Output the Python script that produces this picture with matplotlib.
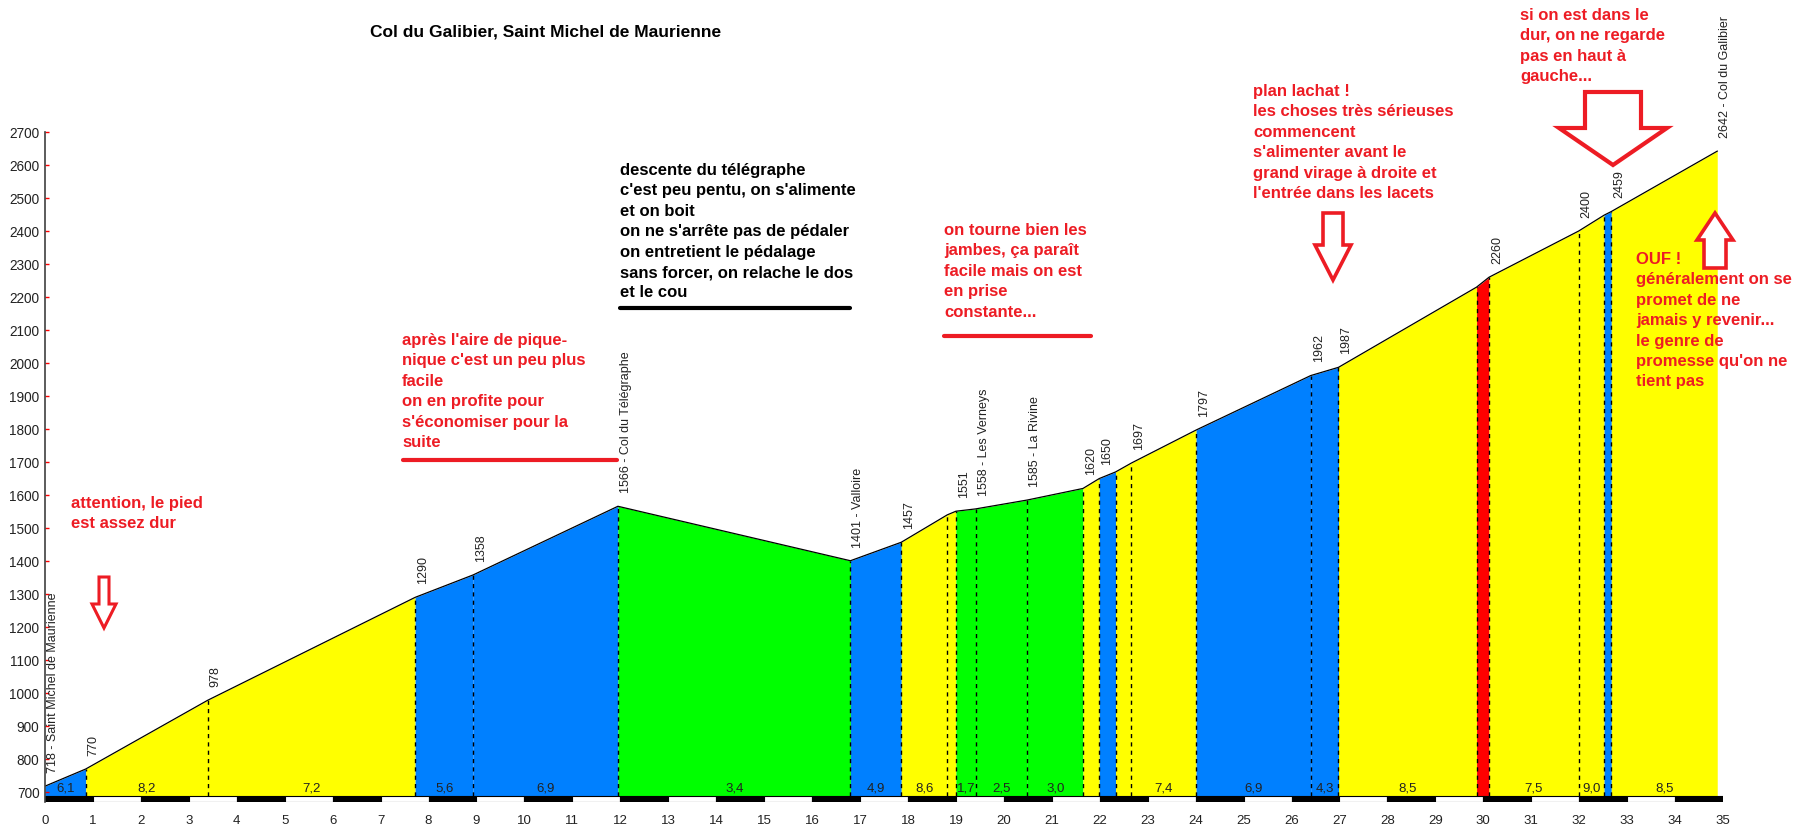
import numpy as np
import matplotlib
matplotlib.use("Agg")
import matplotlib.pyplot as plt
from matplotlib.patches import Polygon

plt.rcParams['font.family'] = ['Liberation Sans', 'DejaVu Sans']

# profil : points de passage (km, altitude)
km = [0, 0.85, 3.39, 7.72, 8.93, 11.95, 16.8, 17.86, 18.82, 19.0, 19.41, 20.49,
      21.65, 21.99, 22.33, 22.66, 24.01, 26.4, 26.98, 29.86, 30.12, 31.99,
      32.52, 32.67, 34.88]
alt = [718, 770, 978, 1290, 1358, 1566, 1401, 1457, 1540, 1551, 1558, 1585,
       1620, 1650, 1670, 1697, 1797, 1962, 1987, 2230, 2260, 2400,
       2448, 2459, 2642]
point_labels = ["718 - Saint Michel de Maurienne", "770", "978", "1290", "1358",
                "1566 - Col du Télégraphe", "1401 - Valloire", "1457", "", "1551",
                "1558 - Les Verneys", "1585 - La Rivine", "1620", "1650", "",
                "1697", "1797", "1962", "1987", "", "2260", "2400", "", "2459",
                "2642 - Col du Galibier"]

# pente de chaque segment
seg_pente = ["6,1", "8,2", "7,2", "5,6", "6,9", "3,4", "4,9", "8,6", "", "1,7",
             "2,5", "3,0", "", "", "", "7,4", "6,9", "4,3", "8,5", "", "7,5",
             "9,0", "", "8,5"]
seg_couleur = ["b", "y", "y", "b", "b", "g", "b", "y", "y", "g", "g", "g",
               "y", "b", "y", "y", "b", "b", "y", "r", "y", "y", "b", "y"]

couleurs = {"b": "#0080ff", "y": "#ffff00", "g": "#00ff00", "r": "#ff0000"}
ROUGE = "#ed1c24"
W, H = 1805, 824

fig = plt.figure(figsize=(W / 100, H / 100), dpi=100)
ax = fig.add_axes([45 / W, 22 / H, (1723 - 45) / W, (692 - 22) / H])
ax.set_xlim(0, 35)
ax.set_ylim(670, 2700)
base = 688

# remplissage des segments
for i in range(len(km) - 1):
    ax.fill_between([km[i], km[i + 1]], base, [alt[i], alt[i + 1]],
                    color=couleurs[seg_couleur[i]], lw=0)
    if seg_pente[i]:
        ax.text((km[i] + km[i + 1]) / 2, 711, seg_pente[i], ha='center',
                va='center', fontsize=9.5, color='#222222')

ax.plot(km, alt, color='black', lw=0.9)

# lignes pointillées
for k, a in zip(km[1:-1], alt[1:-1]):
    ax.plot([k, k], [base, a], color='black', lw=1, ls=(0, (3, 3)))

# étiquettes des points
for k, a, t in zip(km, alt, point_labels):
    if t:
        ax.annotate(t, (k, a), xytext=(5.8, 9.5), textcoords='offset points',
                    rotation=90, ha='center', va='bottom', fontsize=9,
                    color='#222222')

# barre km noire / blanche
for i in range(35):
    ax.bar(i, 18, bottom=670, width=1, align='edge',
           color='black' if i % 2 == 0 else 'white', edgecolor='black', lw=0.8)

ax.set_xticks(range(36))
ax.set_yticks(range(700, 2701, 100))
ax.tick_params(axis='x', length=0, pad=9, labelsize=9.5, labelcolor='#222222')
ax.tick_params(axis='y', direction='in', length=3, width=1, color='red',
               pad=4, labelsize=9.8, labelcolor='#222222')
for s in ['top', 'right', 'bottom']:
    ax.spines[s].set_visible(False)
ax.spines['left'].set_color('#404040')
ax.spines['left'].set_linewidth(1.2)


def fx(x):
    return x / W


def fy(y):
    return 1 - y / H


fig.text(fx(546), fy(32), "Col du Galibier, Saint Michel de Maurienne",
         ha='center', va='center', fontsize=12.5, fontweight='bold')

# (x, centre de la 1re ligne, couleur, texte) en pixels
notes = [
    (71, 504, ROUGE, "attention, le pied\nest assez dur"),
    (402, 341, ROUGE, "après l'aire de pique-\nnique c'est un peu plus\nfacile\n"
                      "on en profite pour\ns'économiser pour la\nsuite"),
    (620, 171, 'black', "descente du télégraphe\nc'est peu pentu, on s'alimente\n"
                        "et on boit\non ne s'arrête pas de pédaler\n"
                        "on entretient le pédalage\nsans forcer, on relache le dos\n"
                        "et le cou"),
    (944, 231, ROUGE, "on tourne bien les\njambes, ça paraît\nfacile mais on est\n"
                      "en prise\nconstante..."),
    (1253, 92, ROUGE, "plan lachat !\nles choses très sérieuses\ncommencent\n"
                      "s'alimenter avant le\ngrand virage à droite et\n"
                      "l'entrée dans les lacets"),
    (1520, 16, ROUGE, "si on est dans le\ndur, on ne regarde\npas en haut à\ngauche..."),
    (1636, 260, ROUGE, "OUF !\ngénéralement on se\npromet de ne\njamais y revenir...\n"
                       "le genre de\npromesse qu'on ne\ntient pas"),
]
for x, y, c, t in notes:
    fig.text(fx(x), fy(y - 8), t, ha='left', va='top', fontsize=12,
             fontweight='bold', color=c, linespacing=1.45)

# traits de soulignement
for x0, x1, y, c in [(403, 617, 460, ROUGE), (620, 850, 308, 'black'),
                     (944, 1091, 336, ROUGE)]:
    fig.add_artist(plt.Line2D([fx(x0), fx(x1)], [fy(y), fy(y)], color=c,
                              lw=3, solid_capstyle='round'))


def fleche(cx, y0, yh, ytip, sw, hw, lw):
    pts = [(cx - sw, y0), (cx + sw, y0), (cx + sw, yh), (cx + hw, yh),
           (cx, ytip), (cx - hw, yh), (cx - sw, yh)]
    pts = [(fx(x), fy(y)) for x, y in pts]
    fig.add_artist(Polygon(pts, closed=True, facecolor='white', edgecolor=ROUGE,
                           lw=lw, joinstyle='miter', transform=fig.transFigure))


fleche(104, 577, 604, 628, 5, 12, 2.2)
fleche(1333, 213, 245, 280, 10, 18, 2.6)
fleche(1613, 92, 128, 165, 28, 54, 3)
fleche(1715, 268, 240, 213, 11, 18, 2.6)

fig.savefig("out.png", dpi=100)
